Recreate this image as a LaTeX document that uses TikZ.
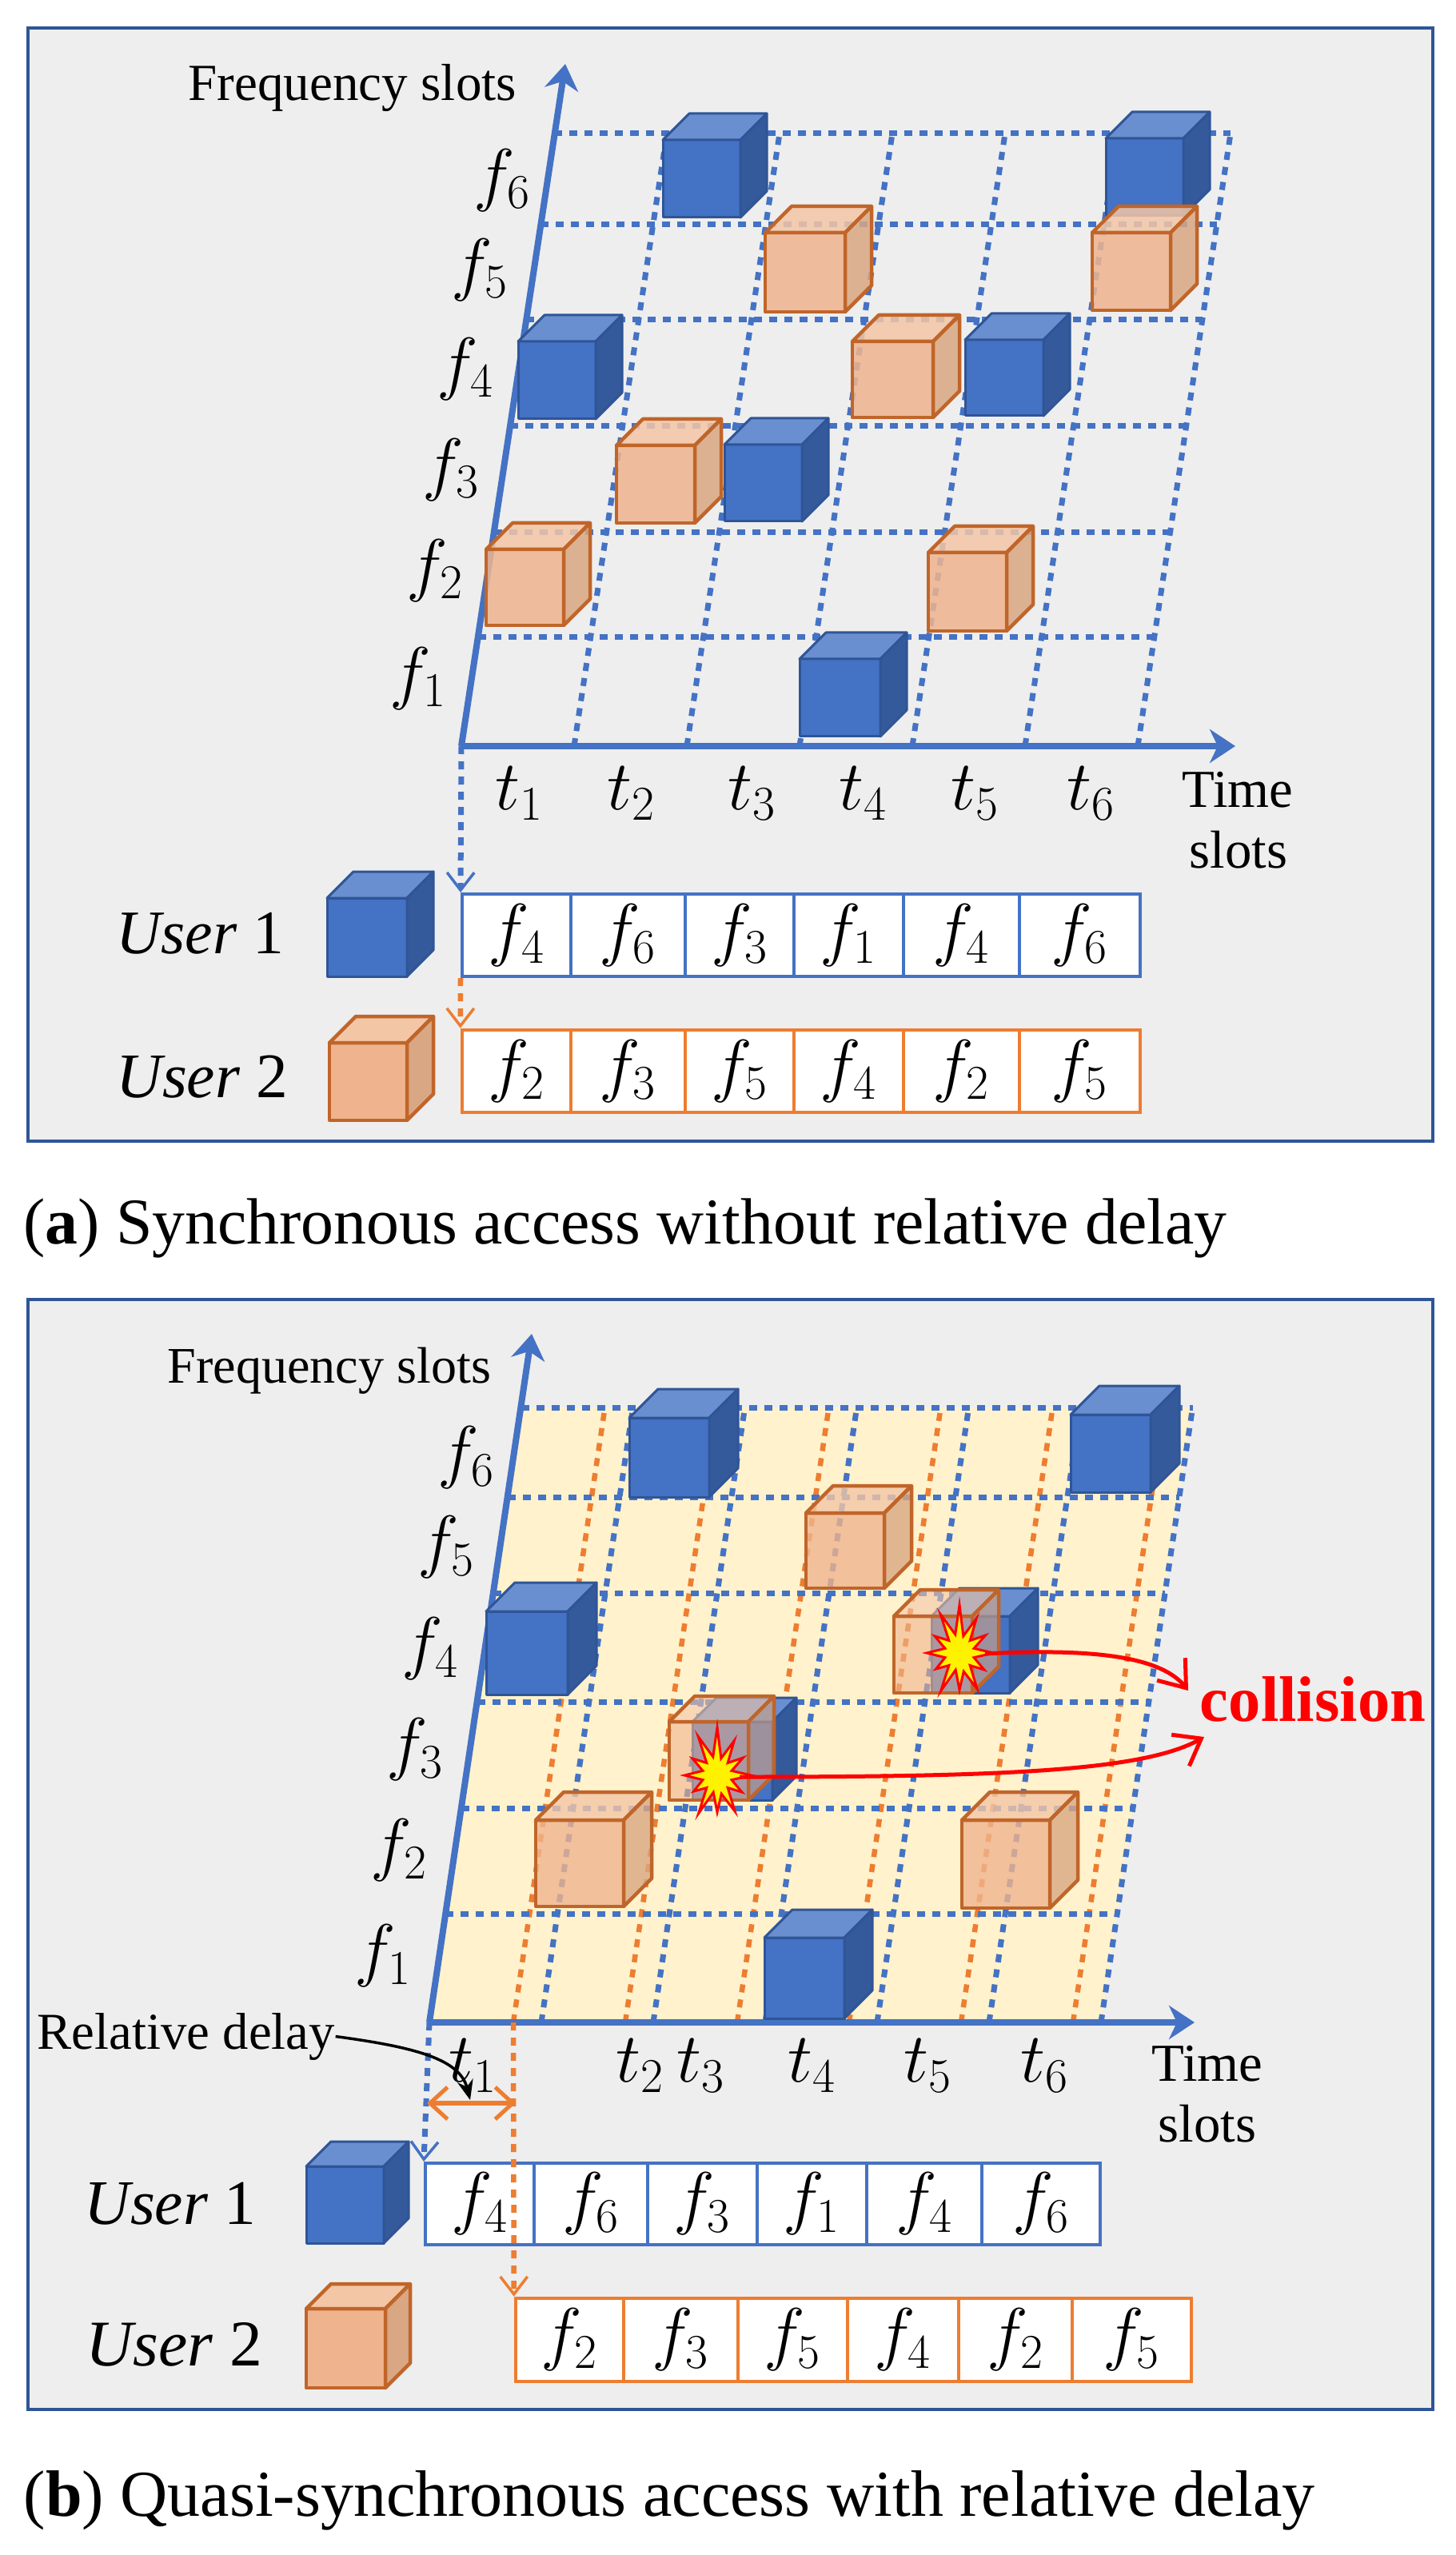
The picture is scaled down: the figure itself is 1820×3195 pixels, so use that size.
\documentclass[tikz,border=0pt]{standalone}
\usepackage{fontspec}
\setmainfont{Liberation Serif}
\usetikzlibrary{arrows.meta}
\definecolor{ablue}{HTML}{4472C4}
\definecolor{dblue}{HTML}{2F5597}
\definecolor{tblue}{HTML}{6A8FD0}
\definecolor{sblue}{HTML}{345A9C}
\definecolor{oface}{HTML}{EFB48E}
\definecolor{otop}{HTML}{F3C6A6}
\definecolor{oside}{HTML}{D9A783}
\definecolor{oedge}{HTML}{C0652A}
\definecolor{oline}{HTML}{ED7D31}
\definecolor{bgc}{HTML}{EEEEEE}
\definecolor{yel}{HTML}{FFF2CC}
\newcommand\bcube[5]{%
 \filldraw[draw=dblue,line width=0.03cm,fill=ablue,line join=round] (#1,#2) rectangle ++(#3,-#4);
 \filldraw[draw=dblue,line width=0.03cm,fill=tblue,line join=round] (#1,#2-#4) -- ++(#5,-#5) -- ++(#3,0) -- ++(-#5,#5) -- cycle;
 \filldraw[draw=dblue,line width=0.03cm,fill=sblue,line join=round] (#1+#3,#2) -- ++(0,-#4) -- ++(#5,-#5) -- ++(0,#4) -- cycle;}
\newcommand\ocube[6]{%
 \filldraw[draw=oedge,line width=0.045cm,fill=oface,fill opacity=#6,line join=round] (#1,#2) rectangle ++(#3,-#4);
 \filldraw[draw=oedge,line width=0.045cm,fill=otop,fill opacity=#6,line join=round] (#1,#2-#4) -- ++(#5,-#5) -- ++(#3,0) -- ++(-#5,#5) -- cycle;
 \filldraw[draw=oedge,line width=0.045cm,fill=oside,fill opacity=#6,line join=round] (#1+#3,#2) -- ++(0,-#4) -- ++(#5,-#5) -- ++(0,#4) -- cycle;}
\newcommand\boom[2]{%
 \filldraw[shift={(#1,#2)},xscale=0.85,draw=red,fill=yellow,line width=0.03cm,line join=miter]
 (0:50) -- (15:22) -- (30:42) -- (45:22) -- (60:52) -- (75:24) -- (90:46) -- (105:22) -- (120:55) -- (135:22) -- (150:40) -- (165:22) -- (180:48) -- (195:22) -- (210:42) -- (225:22) -- (240:56) -- (255:24) -- (270:60) -- (285:22) -- (300:50) -- (315:22) -- (330:44) -- (345:22) -- cycle;}
\begin{document}
\begin{tikzpicture}[x=0.01cm,y=-0.01cm,
  axis/.style={ablue,line width=0.08cm,-{Stealth[length=0.32cm,width=0.42cm,inset=0.1cm]}},
  gdot/.style={line width=0.07cm,dash pattern=on 0.1cm off 0.09cm},
  odot/.style={oline,line width=0.065cm,dash pattern=on 0.1cm off 0.09cm},
  lab/.style={font=\fontsize{25}{28}\selectfont,inner sep=0},
  tl/.style={font=\fontsize{24}{28}\selectfont,inner sep=0},
  ts/.style={font=\fontsize{19}{22}\selectfont,inner sep=0,anchor=base},
  bcell/.style={draw=ablue,line width=0.04cm,fill=white,inner sep=0,font=\fontsize{25}{28}\selectfont},
  ocell/.style={draw=oline,line width=0.045cm,fill=white,inner sep=0,font=\fontsize{25}{28}\selectfont},
  barb/.style={-{Straight Barb[length=0.22cm,width=0.34cm,line width=0.035cm]}}]
\useasboundingbox (0,0) rectangle (1820,3195);
\fill[white] (0,0) rectangle (1820,3195);
% ---------------- panel a
\filldraw[fill=bgc,draw=dblue,line width=0.04cm] (35,35) rectangle (1792,1427);
\foreach \k in {1,...,6}{\draw[gdot,ablue] ({577+141*\k},933) -- ({577+141*\k+116},167);}
\foreach \y in {167,281,400,533,666,797}{\draw[gdot,ablue] ({577+0.152*(933-\y)},\y) -- ({1423+0.152*(933-\y)},\y);}
\coordinate (oa) at (577,933);
\coordinate (fa) at (707,80);
\coordinate (ta) at (1545,933);
\draw[axis] (oa) -- (fa);
\draw[axis] (oa) -- (ta);
\node[anchor=base west,inner sep=0] (fsa) at (235,126) {\resizebox{4.1cm}{!}{Frequency slots}};
\foreach \i/\x/\y in {6/628/226,5/600/338,4/582/462,3/564/588,2/544/714,1/523/849}{\node[lab] (fa\i) at (\x,\y) {$f_{\i}$};}
\foreach \i/\x in {1/650,2/790,3/941,4/1080,5/1220,6/1365}{\node[tl] (ta\i) at (\x,992) {$t_{\i}$};}
\node[ts] (tma) at (1548,1009) {Time};
\node[ts] (sla) at (1549,1085) {slots};
\bcube{829}{272}{97}{97}{33}
\bcube{1383}{270}{97}{97}{33}
\ocube{957}{390}{100}{99}{33}{0.85}
\ocube{1366}{388}{98}{97}{33}{0.85}
\bcube{648}{524}{97}{97}{33}
\ocube{1066}{522}{101}{95}{33}{0.85}
\bcube{1207}{520}{98}{95}{33}
\ocube{771}{654}{98}{97}{33}{0.85}
\bcube{906}{652}{97}{96}{33}
\ocube{608}{782}{97}{95}{33}{0.85}
\ocube{1161}{789}{98}{98}{33}{0.85}
\bcube{1000}{921}{101}{97}{33}
% user rows a
\foreach \a/\b/\l [count=\i] in {578/714/4,714/857/6,857/993/3,993/1130/1,1130/1275/4,1275/1426/6}{
  \node[bcell,minimum width={(\b-\a)*0.01cm},minimum height=1.03cm] (ua\i) at ({(\a+\b)/2},1169.5) {$f_{\l}$};}
\foreach \a/\b/\l [count=\i] in {578/714/2,714/857/3,857/993/5,993/1130/4,1130/1275/2,1275/1426/5}{
  \node[ocell,minimum width={(\b-\a)*0.01cm},minimum height=1.03cm] (va\i) at ({(\a+\b)/2},1339.5) {$f_{\l}$};}
\draw[gdot,ablue,barb] (oa) -- (ua1.north west);
\draw[odot,barb] (ua1.south west) -- (va1.north west);
\node[anchor=west,inner sep=0] (usa1) at (145,1167) {\resizebox{2.09cm}{!}{\textit{User} 1}};
\node[anchor=west,inner sep=0] (usa2) at (145,1347) {\resizebox{2.14cm}{!}{\textit{User} 2}};
\bcube{409}{1221}{100}{98}{33}
\ocube{412}{1401}{97}{97}{33}{1}
\node[anchor=base west,inner sep=0] (capa) at (29,1555) {\resizebox{15.04cm}{!}{(\textbf{a}) Synchronous access without relative delay}};
% ---------------- panel b
\filldraw[fill=bgc,draw=dblue,line width=0.04cm] (35,1625) rectangle (1792,3013);
\fill[yel] (537,2529) -- (1377,2529) -- (1491,1760) -- (651,1760) -- cycle;
\foreach \k in {0,...,5}{\draw[odot] ({642+140*\k},2529) -- ({642+140*\k+114.6},1760);}
\foreach \k in {1,...,6}{\draw[gdot,ablue] ({537+140*\k},2529) -- ({537+140*\k+114.6},1760);}
\foreach \y in {1760,1872,1992,2128,2261,2393}{\draw[gdot,ablue] ({537+0.149*(2529-\y)},\y) -- ({1377+0.149*(2529-\y)},\y);}
\coordinate (ob) at (537,2529);
\coordinate (fb) at (665,1668);
\coordinate (tb) at (1494,2529);
\coordinate (od) at (642,2529);
\draw[axis] (ob) -- (fb);
\draw[axis] (ob) -- (tb);
\node[anchor=base west,inner sep=0] (fsb) at (209,1729) {\resizebox{4.04cm}{!}{Frequency slots}};
\foreach \i/\x/\y in {6/583/1823,5/558/1935,4/538/2062,3/519/2188,2/499/2314,1/479/2446}{\node[lab] (fb\i) at (\x,\y) {$f_{\i}$};}
\foreach \i/\x in {1/592,2/801,3/877,4/1016,5/1161,6/1307}{\node[tl] (tb\i) at (\x,2583) {$t_{\i}$};}
\node[ts] (tmb) at (1510,2602) {Time};
\node[ts] (slb) at (1510,2678) {slots};
\bcube{787}{1872}{100}{99}{36}
\bcube{1339}{1866}{100}{97}{36}
\ocube{1008}{1986}{98}{94}{34}{0.8}
\bcube{608}{2119}{102}{104}{36}
\bcube{1165}{2117}{98}{96}{35}
\ocube{1118}{2117}{98}{96}{33}{0.6}
\bcube{866}{2251}{100}{98}{30}
\ocube{837}{2251}{99}{98}{32}{0.6}
\ocube{670}{2384}{110}{108}{35}{0.8}
\ocube{1203}{2386}{110}{110}{35}{0.8}
\bcube{956}{2524}{100}{101}{35}
\boom{1200}{2067}
\boom{897}{2220}
\node[inner sep=0,text=red] (col) at (1642,2125) {\resizebox{2.82cm}{!}{\textbf{collision}}};
\coordinate (e1) at (1232,2068);
\coordinate (e2) at (925,2222);
\coordinate (c1) at (1486,2114);
\coordinate (c2) at (1506,2172);
\draw[red,line width=0.05cm,-{Straight Barb[length=0.3cm,width=0.45cm,line width=0.05cm]}] (e1) .. controls (1380,2060) and (1455,2075) .. (c1);
\draw[red,line width=0.05cm,-{Straight Barb[length=0.3cm,width=0.45cm,line width=0.05cm]}] (e2) .. controls (1250,2222) and (1430,2215) .. (c2);
% user rows b
\foreach \a/\b/\l [count=\i] in {532/668/4,668/810/6,810/947/3,947/1084/1,1084/1228/4,1228/1376/6}{
  \node[bcell,minimum width={(\b-\a)*0.01cm},minimum height=1.02cm] (ub\i) at ({(\a+\b)/2},2756) {$f_{\l}$};}
\foreach \a/\b/\l [count=\i] in {645/780/2,780/923/3,923/1060/5,1060/1199/4,1199/1341/2,1341/1490/5}{
  \node[ocell,minimum width={(\b-\a)*0.01cm},minimum height=1.04cm] (vb\i) at ({(\a+\b)/2},2926) {$f_{\l}$};}
\draw[gdot,ablue,barb] (ob) -- (ub1.north west);
\draw[odot,barb] (od) -- (vb1.north west);
\coordinate (d1) at (534,2630);
\coordinate (d2) at (645,2630);
\draw[oline,line width=0.06cm,{Straight Barb[length=0.22cm,width=0.4cm,line width=0.05cm]}-{Straight Barb[length=0.22cm,width=0.4cm,line width=0.05cm]}] (d1) -- (d2);
\node[anchor=base west,inner sep=0] (rd) at (46,2562) {\resizebox{3.72cm}{!}{Relative delay}};
\draw[black,line width=0.035cm,-{Stealth[length=0.25cm,width=0.2cm]}] (rd.east) .. controls (520,2560) and (575,2575) .. (588,2626);
\node[anchor=west,inner sep=0] (usb1) at (105,2756) {\resizebox{2.14cm}{!}{\textit{User} 1}};
\node[anchor=west,inner sep=0] (usb2) at (107,2932) {\resizebox{2.2cm}{!}{\textit{User} 2}};
\bcube{383}{2805}{97}{96}{31}
\ocube{383}{2986}{99}{99}{31}{1}
\node[anchor=base west,inner sep=0] (capb) at (29,3146) {\resizebox{16.14cm}{!}{(\textbf{b}) Quasi-synchronous access with relative delay}};
\end{tikzpicture}
\end{document}
